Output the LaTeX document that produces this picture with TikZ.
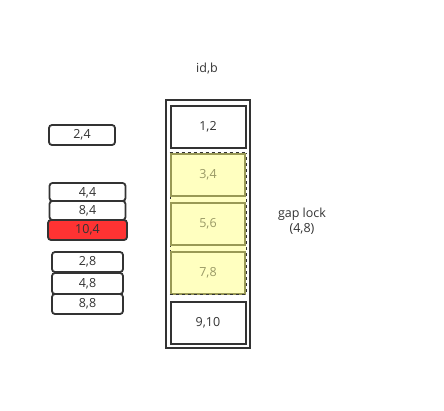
\documentclass[tikz,border=0pt]{standalone}
\usepackage{fontspec}
\setmainfont{Open Sans}
\definecolor{edge}{HTML}{333333}
\definecolor{ylw}{HTML}{FFFFC0}
\definecolor{olive}{HTML}{999955}
\definecolor{oltext}{HTML}{999966}
\definecolor{redf}{HTML}{FF3333}
\begin{document}
\begin{tikzpicture}[x=1pt,y=-1pt,
  txt/.style={font=\fontsize{12.5}{15}\selectfont, text=edge},
  rec/.style={draw=edge, line width=1.8pt, rounded corners=3pt, fill=white, inner sep=0pt, txt},
  cell/.style={draw=edge, line width=2pt, fill=white, inner sep=0pt, txt},
  ycell/.style={draw=olive, line width=1.8pt, fill=ylw, inner sep=0pt, font=\fontsize{12.5}{15}\selectfont, text=oltext}]
\useasboundingbox (0,0) rectangle (444,410);
\fill[white] (0,0) rectangle (444,410);
% column
\node[draw=edge, line width=1.8pt, minimum width=84pt, minimum height=248pt, inner sep=0pt] (col) at (208,224) {};
\node[cell, minimum width=75pt, minimum height=42pt] (c12) at (208,127) {1,2};
\node[draw=edge, dashed, line width=0.8pt, fill=ylw, minimum width=76pt, minimum height=141pt, inner sep=0pt] (gap) at (208,223.5) {};
\node[ycell, minimum width=74pt, minimum height=42pt] (c34) at (208,175) {3,4};
\node[ycell, minimum width=74pt, minimum height=42pt] (c56) at (208,224) {5,6};
\node[ycell, minimum width=74pt, minimum height=42pt] (c78) at (208,273) {7,8};
\draw[edge, dashed, line width=0.8pt] (gap.north west) -- (gap.north east);
\draw[edge, dashed, line width=0.8pt] (gap.south west) -- (gap.south east);
\node[cell, minimum width=75pt, minimum height=42pt] (c910) at (208,323) {9,10};
% labels
\node[txt] (idb) at (207,69) {id,b};
\node[txt, align=center] (gl) at (302,221) {gap lock\\(4,8)};
% left records
\node[rec, minimum width=66pt, minimum height=20pt] (r24) at (82,135) {2,4};
\node[rec, minimum width=76pt, minimum height=18pt, text depth=-3pt] (r44) at (87.5,192) {4,4};
\node[rec, minimum width=76pt, minimum height=19pt] (r84) at (87.5,210.5) {8,4};
\node[rec, fill=redf, minimum width=79pt, minimum height=20pt] (r104) at (87.5,230) {10,4};
\node[rec, minimum width=71pt, minimum height=20pt] (r28) at (87.5,262) {2,8};
\node[rec, minimum width=71pt, minimum height=21pt] (r48) at (87.5,283.5) {4,8};
\node[rec, minimum width=71pt, minimum height=20pt] (r88) at (87.5,304) {8,8};
\end{tikzpicture}
\end{document}
